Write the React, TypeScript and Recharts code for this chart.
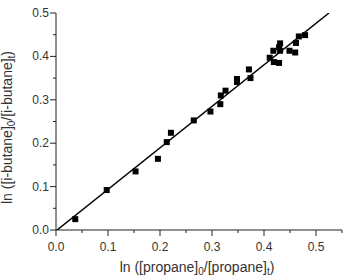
import { ScatterChart, Scatter, XAxis, YAxis, Label } from 'recharts';

// measured conversions: ln([propane]0/[propane]t) vs ln([i-butane]0/[i-butane]t)
const propaneLn = [
  0.037, 0.0975, 0.153, 0.196, 0.213, 0.221, 0.265, 0.297, 0.316, 0.317, 0.326, 0.348, 0.348,
  0.371, 0.374, 0.411, 0.418, 0.419, 0.429, 0.431, 0.429, 0.431, 0.449, 0.46, 0.4615, 0.467, 0.479,
];
const butaneLn = [
  0.025, 0.092, 0.135, 0.164, 0.2025, 0.224, 0.2525, 0.273, 0.29, 0.31, 0.321, 0.348, 0.341,
  0.37, 0.35, 0.397, 0.413, 0.387, 0.385, 0.43, 0.421, 0.413, 0.413, 0.409, 0.431, 0.446, 0.449,
];

// end points of the linear fit
const fitX = [0.002, 0.525];
const fitY = [0, 0.5];

const xTicks = [0, 0.05, 0.1, 0.15, 0.2, 0.25, 0.3, 0.35, 0.4, 0.45, 0.5, 0.55];
const yTicks = [0, 0.05, 0.1, 0.15, 0.2, 0.25, 0.3, 0.35, 0.4, 0.45, 0.5];

const points = propaneLn.map((x, i) => ({ x, y: butaneLn[i] }));
const fitLine = fitX.map((x, i) => ({ x, y: fitY[i] }));

const FONT = '"Liberation Sans", Arial, sans-serif';
const TEXT = '#333';
const AXIS = '#222';

const isMajor = (v: number) => Math.round(v * 100) % 10 === 0;

function XTick({ x, y, payload }: any) {
  const major = isMajor(payload.value);
  return (
    <g>
      <line x1={x} x2={x} y1={y} y2={y + (major ? 6 : 3)} stroke={AXIS} strokeWidth={1} />
      {major && (
        <text x={x} y={y + 21} textAnchor="middle" fontSize={12} fill={TEXT} fontFamily={FONT}>
          {payload.value.toFixed(1)}
        </text>
      )}
    </g>
  );
}

function YTick({ x, y, payload }: any) {
  const major = isMajor(payload.value);
  return (
    <g>
      <line x1={x} x2={x - (major ? 6 : 3)} y1={y} y2={y} stroke={AXIS} strokeWidth={1} />
      {major && (
        <text x={x - 7} y={y + 4} textAnchor="end" fontSize={12} fill={TEXT} fontFamily={FONT}>
          {payload.value.toFixed(1)}
        </text>
      )}
    </g>
  );
}

function SquareDot({ cx, cy }: any) {
  return <rect x={cx - 3} y={cy - 3} width={6} height={6} fill="#000" />;
}

function XTitle({ viewBox }: any) {
  const cx = viewBox.x + viewBox.width / 2 - 2;
  return (
    <text x={cx} y={272} textAnchor="middle" fontSize={14} fill={TEXT} fontFamily={FONT}>
      ln ([propane]
      <tspan fontSize={10} dy={3}>0</tspan>
      <tspan dy={-3}>/[propane]</tspan>
      <tspan fontSize={10} dy={3}>t</tspan>
      <tspan dy={-3}>)</tspan>
    </text>
  );
}

function YTitle({ viewBox }: any) {
  const cy = viewBox.y + viewBox.height / 2 + 6;
  return (
    <text
      x={0}
      y={0}
      transform={`translate(12, ${cy}) rotate(-90)`}
      textAnchor="middle"
      fontSize={14}
      fill={TEXT}
      fontFamily={FONT}
    >
      ln ([i-butane]
      <tspan fontSize={10} dy={3}>0</tspan>
      <tspan dy={-3}>/[i-butane]</tspan>
      <tspan fontSize={10} dy={3}>t</tspan>
      <tspan dy={-3}>)</tspan>
    </text>
  );
}

export default function App() {
  return (
    <div style={{ position: 'absolute', left: 0, top: 0, background: '#fff' }}>
      <ScatterChart width={344} height={276} margin={{ top: 13, right: 2, bottom: 0, left: 0 }}>
        <XAxis
          type="number"
          dataKey="x"
          domain={[0, 0.55]}
          ticks={xTicks}
          interval={0}
          tick={<XTick />}
          tickSize={0}
          tickMargin={0}
          height={46}
          axisLine={{ stroke: AXIS }}
          allowDataOverflow
        >
          <Label content={<XTitle />} />
        </XAxis>
        <YAxis
          type="number"
          dataKey="y"
          domain={[0, 0.5]}
          ticks={yTicks}
          interval={0}
          tick={<YTick />}
          tickSize={0}
          tickMargin={0}
          width={56}
          axisLine={{ stroke: AXIS }}
          allowDataOverflow
        >
          <Label content={<YTitle />} />
        </YAxis>
        <Scatter
          data={fitLine}
          line={{ stroke: '#000', strokeWidth: 1.5 }}
          shape={() => null}
          isAnimationActive={false}
        />
        <Scatter data={points} shape={<SquareDot />} isAnimationActive={false} />
      </ScatterChart>
    </div>
  );
}
